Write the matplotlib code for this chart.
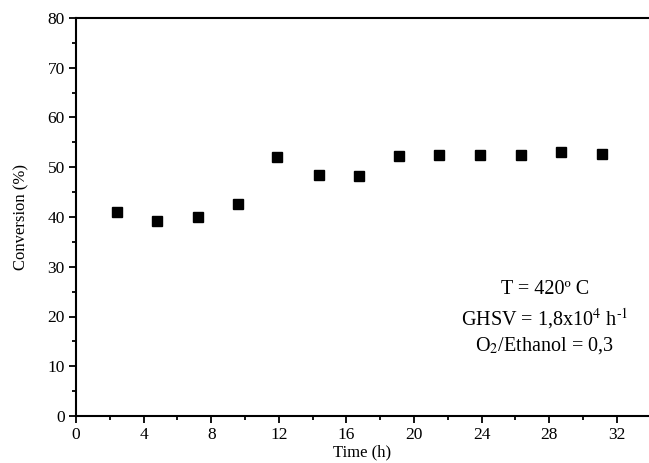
import matplotlib
matplotlib.use("Agg")
import matplotlib.pyplot as plt
from matplotlib.ticker import MultipleLocator

plt.rcParams['font.family'] = ['Liberation Serif', 'DejaVu Serif']
plt.rcParams['mathtext.fontset'] = 'stix'

# ethanol conversion over time on stream
time_h = [2.4, 4.8, 7.2, 9.6, 11.9, 14.35, 16.75, 19.1, 21.5, 23.9, 26.3, 28.7, 31.1]
conversion = [41.1, 39.2, 39.9, 42.6, 52.1, 48.4, 48.3, 52.3, 52.5, 52.5, 52.5, 53.0, 52.7]

fig = plt.figure(figsize=(6.49, 4.63), dpi=100)
ax = fig.add_axes([76/649, 47/463, 573/649, 398/463])

ax.plot(time_h, conversion, linestyle='none', marker='s', ms=7, color='black')

ax.set_xlim(0, 33.9)
ax.set_ylim(0, 80)
ax.xaxis.set_major_locator(MultipleLocator(4))
ax.xaxis.set_minor_locator(MultipleLocator(2))
ax.yaxis.set_major_locator(MultipleLocator(10))
ax.yaxis.set_minor_locator(MultipleLocator(5))
ax.tick_params(which='both', direction='out', width=1.3, labelsize=12.5, pad=3)
ax.tick_params(which='major', length=5)
ax.tick_params(which='minor', length=3)
for s in ['left', 'bottom', 'top']:
    ax.spines[s].set_linewidth(1.5)
ax.spines['right'].set_visible(False)

ax.set_xlabel('Time (h)', fontsize=12, labelpad=1)
ax.set_ylabel('Conversion (%)', fontsize=12, labelpad=13)

fs = 14.5
ax.text(0.818, 0.317, 'T = 420º C', transform=ax.transAxes, ha='center', va='center', fontsize=fs)
ax.text(0.818, 0.246, r'GHSV = 1,8x10$^{4}$ h$^{\text{-}1}$', transform=ax.transAxes,
        ha='center', va='center', fontsize=fs)
ax.text(0.818, 0.178, r'O$_{2}$/Ethanol = 0,3', transform=ax.transAxes, ha='center', va='center', fontsize=fs)

fig.savefig('out.png', dpi=100)
